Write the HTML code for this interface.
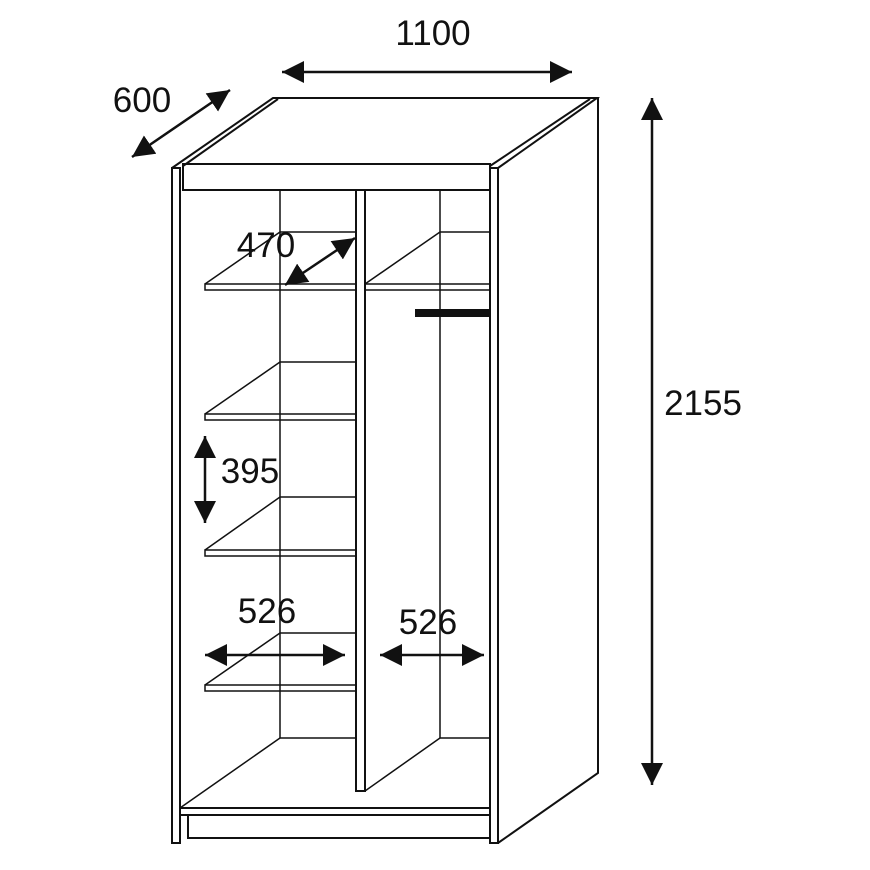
<!DOCTYPE html>
<html><head><style>body{margin:0;background:#fff}svg{display:block}</style></head><body>
<svg width="870" height="870" viewBox="0 0 870 870" xmlns="http://www.w3.org/2000/svg">
<defs>
<marker id="b" viewBox="0 0 10 10" refX="10" refY="5" markerWidth="22" markerHeight="22" markerUnits="userSpaceOnUse" orient="auto-start-reverse">
<path d="M0,0 L10,5 L0,10 z" fill="#111"/></marker>
</defs>
<g fill="none" stroke="#111" stroke-width="2">
<path d="M172,168 L273,98 L597,98 L498,168"/>
<path d="M183,166 L278,99"/>
<path d="M490,166 L590,99"/>
<rect x="183" y="164" width="307" height="26"/>
<rect x="172" y="168" width="8" height="675"/>
<rect x="490" y="168" width="8" height="675"/>
<path d="M598,98 L598,773 L498,843"/>
<rect x="356" y="190" width="9" height="601"/>
<path d="M280,190 V738 H356 M440,190 V738 H490" stroke-width="1.5"/>
<path d="M180,808 L280,738 M365,791 L440,738" stroke-width="1.5"/>
<rect x="180" y="808" width="310" height="7"/>
<rect x="188" y="815" width="302" height="23"/>
<g stroke-width="1.5">
<path d="M205,284 L280,232 H356"/><rect x="205" y="284" width="151" height="6"/>
<path d="M205,414 L280,362 H356"/><rect x="205" y="414" width="151" height="6"/>
<path d="M205,550 L280,497 H356"/><rect x="205" y="550" width="151" height="6"/>
<path d="M205,685 L280,633 H356"/><rect x="205" y="685" width="151" height="6"/>
<path d="M365,284 L440,232 H490"/><rect x="365" y="284" width="125" height="6"/>
</g>
</g>
<rect x="415" y="309" width="75" height="8" fill="#111"/>
<g stroke="#111" stroke-width="2.5" marker-start="url(#b)" marker-end="url(#b)">
<line x1="282" y1="72" x2="572" y2="72"/>
<line x1="132" y1="157" x2="230" y2="90"/>
<line x1="652" y1="98" x2="652" y2="785"/>
<line x1="285" y1="285" x2="355" y2="238"/>
<line x1="205" y1="436" x2="205" y2="523"/>
<line x1="205" y1="655" x2="345" y2="655"/>
<line x1="380" y1="655" x2="484" y2="655"/>
</g>
<g font-family="Liberation Sans, sans-serif" font-size="35" fill="#111" text-anchor="middle">
<text x="433" y="45">1100</text>
<text x="142" y="112">600</text>
<text x="703" y="415">2155</text>
<text x="266" y="257">470</text>
<text x="250" y="483">395</text>
<text x="267" y="623">526</text>
<text x="428" y="634">526</text>
</g>
</svg>
</body></html>
